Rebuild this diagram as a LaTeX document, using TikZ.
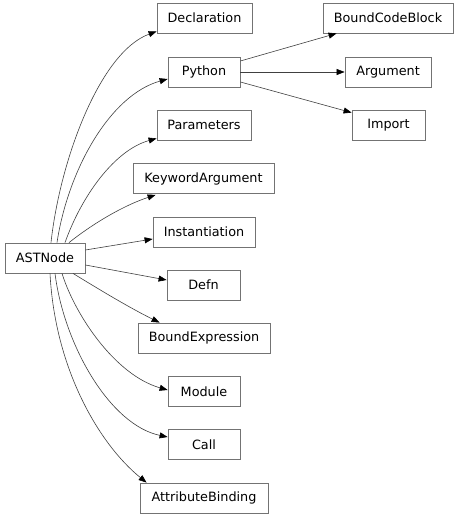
\documentclass[tikz,border=0pt]{standalone}
\usepackage{fontspec}
\setmainfont{DejaVu Sans}
\usetikzlibrary{arrows.meta}
\begin{document}
\begin{tikzpicture}[x=1pt,y=-1pt,
  cls/.style={draw=black!55,line width=0.8pt,fill=white,minimum height=30pt,inner sep=0pt,
    font=\fontsize{12.8}{15}\selectfont},
  inh/.style={draw=black!75,line width=0.6pt,-{Triangle[length=8pt,width=6pt,color=black]}}]
\useasboundingbox (0,0) rectangle (459,521);
% nodes
\node[cls,minimum width=80pt]  (ast)   at (45,258)    {ASTNode};
\node[cls,minimum width=95pt]  (decl)  at (204.5,18)  {Declaration};
\node[cls,minimum width=72pt]  (py)    at (204,72)    {Python};
\node[cls,minimum width=94pt]  (par)   at (204,125)   {Parameters};
\node[cls,minimum width=141pt] (kw)    at (203.5,178.5) {KeywordArgument};
\node[cls,minimum width=102pt] (inst)  at (204,232)   {Instantiation};
\node[cls,minimum width=73pt]  (defn)  at (203.5,285) {Defn};
\node[cls,minimum width=132pt] (bexp)  at (204,338)   {BoundExpression};
\node[cls,minimum width=72pt]  (mod)   at (204,391.5) {Module};
\node[cls,minimum width=72pt]  (call)  at (204,444.5) {Call};
\node[cls,minimum width=128pt] (attr)  at (204,498)   {AttributeBinding};
\node[cls,minimum width=130pt] (bcb)   at (388,18)    {BoundCodeBlock};
\node[cls,minimum width=86pt]  (arg)   at (388,72)    {Argument};
\node[cls,minimum width=73pt]  (imp)   at (388.5,125) {Import};
% edges from ASTNode
\draw[inh] ([xshift=6pt]ast.north) .. controls (60,160) and (100,52) .. ([yshift=2pt]decl.south west);
\draw[inh] ([xshift=12pt]ast.north) .. controls (68,170) and (110,95) .. ([yshift=-7pt]py.west);
\draw[inh] ([xshift=20pt]ast.north) .. controls (82,195) and (115,150) .. ([yshift=2pt]par.south west);
\draw[inh] ([xshift=24pt]ast.north) .. controls (95,222) and (125,205) .. ([xshift=23pt,yshift=-1pt]kw.south west);
\draw[inh] ([yshift=8pt]ast.east) -- ([yshift=-7pt]inst.west);
\draw[inh] ([yshift=-7pt]ast.east) -- ([yshift=5pt]defn.west);
\draw[inh] ([xshift=28pt]ast.south) .. controls (100,290) and (130,308) .. ([xshift=22pt]bexp.north west);
\draw[inh] ([xshift=17pt]ast.south) .. controls (75,315) and (115,375) .. ([yshift=1.5pt]mod.west);
\draw[inh] ([xshift=10pt]ast.south) .. controls (64,345) and (110,425) .. ([yshift=7.5pt]call.west);
\draw[inh] ([xshift=5pt]ast.south) .. controls (55,370) and (100,445) .. ([xshift=7pt]attr.north west);
% edges from Python
\draw[inh] ([yshift=11pt]py.east) -- ([xshift=14pt]bcb.south west);
\draw[inh] (py.east) -- (arg.west);
\draw[inh] ([yshift=-10pt]py.east) -- ([yshift=-3pt]imp.north west);
\end{tikzpicture}
\end{document}
